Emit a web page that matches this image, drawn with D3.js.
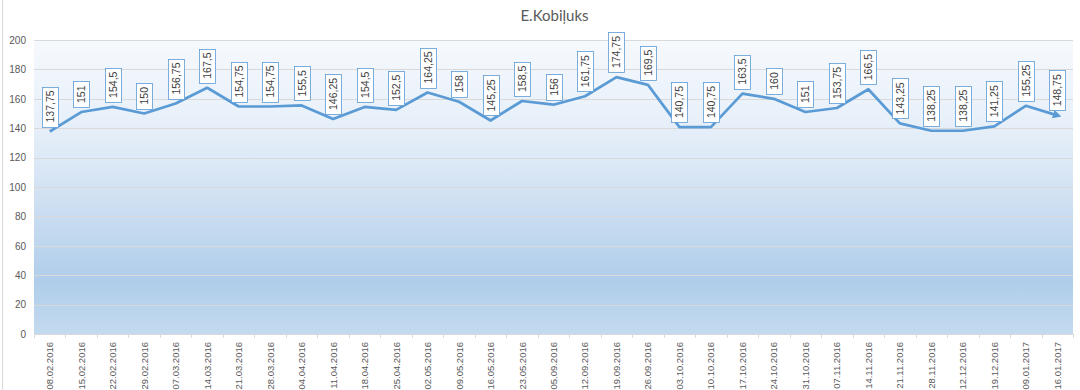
<!DOCTYPE html>
<html><head><meta charset="utf-8">
<script src="https://cdn.jsdelivr.net/npm/d3@7"></script>
<style>body{margin:0;background:#fff}svg{display:block}</style>
</head><body>
<svg id="c" width="1080" height="390"></svg>
<script>
const categories = ["08.02.2016","15.02.2016","22.02.2016","29.02.2016","07.03.2016","14.03.2016","21.03.2016","28.03.2016","04.04.2016","11.04.2016","18.04.2016","25.04.2016","02.05.2016","09.05.2016","16.05.2016","23.05.2016","05.09.2016","12.09.2016","19.09.2016","26.09.2016","03.10.2016","10.10.2016","17.10.2016","24.10.2016","31.10.2016","07.11.2016","14.11.2016","21.11.2016","28.11.2016","12.12.2016","19.12.2016","09.01.2017","16.01.2017"];
const values = [137.75,151,154.5,150,156.75,167.5,154.75,154.75,155.5,146.25,154.5,152.5,164.25,158,145.25,158.5,156,161.75,174.75,169.5,140.75,140.75,163.5,160,151,153.75,166.5,143.25,138.25,138.25,141.25,155.25,148.75];
const yTicks = [0,20,40,60,80,100,120,140,160,180,200];
const title = "E.Kobiļuks";

const svg = d3.select("#c");
const L = 34, R = 1073, T = 40, B = 334;
const x = d3.scaleBand().domain(categories).range([L, R]);
const y = d3.scaleLinear().domain([0, 200]).range([B, T]);
const font = "'Liberation Sans', Arial, sans-serif";

const defs = svg.append("defs");
const g = defs.append("linearGradient").attr("id","bg").attr("x1",0).attr("y1",0).attr("x2",0).attr("y2",1);
[[0,"#f6f9fd"],[0.3,"#e6eff9"],[0.55,"#cfe0f2"],[0.82,"#afcdea"],[1,"#c4daef"]].forEach(s=>g.append("stop").attr("offset",s[0]).attr("stop-color",s[1]));
defs.append("marker").attr("id","arr").attr("viewBox","0 0 10 10").attr("refX",5).attr("refY",5)
  .attr("markerWidth",3.2).attr("markerHeight",3.2).attr("orient","auto")
  .append("path").attr("d","M0,0L10,5L0,10z").attr("fill","#5b9bd5");

svg.append("line").attr("x1",2.5).attr("x2",2.5).attr("y1",0).attr("y2",390).attr("stroke","#d9d9d9");

svg.append("rect").attr("x",L).attr("y",T).attr("width",R-L).attr("height",B-T).attr("fill","url(#bg)");

svg.append("g").selectAll("line").data(yTicks).join("line")
  .attr("x1",L).attr("x2",R).attr("y1",d=>Math.round(y(d))+0.5).attr("y2",d=>Math.round(y(d))+0.5)
  .attr("stroke","#d9d9d9").attr("stroke-width",1);

const ya = svg.append("g").attr("transform",`translate(${L},0)`).call(d3.axisLeft(y).tickValues(yTicks).tickSize(0).tickPadding(8));
ya.select(".domain").remove();
ya.selectAll("text").attr("font-family",font).attr("font-size",10).attr("fill","#595959");

const xa = svg.append("g").attr("transform",`translate(0,${B})`).call(d3.axisBottom(x).tickSize(0).tickPadding(0));
xa.select(".domain").attr("stroke","#d9d9d9");
xa.selectAll("text").attr("font-family",font).attr("font-size",9.5).attr("fill","#595959")
  .attr("text-anchor","end").attr("transform","rotate(-90)").attr("dy",null)
  .attr("dominant-baseline","central").attr("x",-8).attr("y",0);
svg.append("g").selectAll("line").data(categories.concat(["__end"])).join("line")
  .attr("x1",(d,i)=>Math.round(L+i*x.step())+0.5).attr("x2",(d,i)=>Math.round(L+i*x.step())+0.5)
  .attr("y1",B).attr("y2",B+4).attr("stroke","#d9d9d9");

svg.append("text").attr("x",(L+R)/2+1).attr("y",21).attr("text-anchor","middle")
  .attr("font-family","Lato, 'Open Sans', sans-serif").attr("font-size",15).attr("fill","#595959").text(title);

const cx = d => x(d) + x.bandwidth()/2;
const line = d3.line().x((d,i)=>cx(categories[i])).y(d=>y(d));
svg.append("path").datum(values).attr("d",line).attr("fill","none").attr("stroke","#5b9bd5")
  .attr("stroke-width",2.7).attr("stroke-linejoin","round").attr("marker-end","url(#arr)");

const fmt = v => String(v).replace(".", ",");
const lg = svg.append("g");
values.forEach((v,i)=>{
  const px = cx(categories[i]), py = y(v);
  const gg = lg.append("g");
  const txt = gg.append("text")
    .attr("transform",`translate(${px},${py-9}) rotate(-90)`)
    .attr("dominant-baseline","central")
    .attr("font-family",font).attr("font-size",10.5).attr("fill","#404040").text(fmt(v));
  const w = txt.node().getComputedTextLength();
  const h = Math.round(w + 8);
  gg.insert("rect","text").attr("x",Math.round(px-8)+0.5).attr("y",Math.round(py-5-h)+0.5)
    .attr("width",16).attr("height",h).attr("fill","#fff").attr("stroke","#5b9bd5").attr("stroke-width",0.8);
});
</script>
</body></html>
